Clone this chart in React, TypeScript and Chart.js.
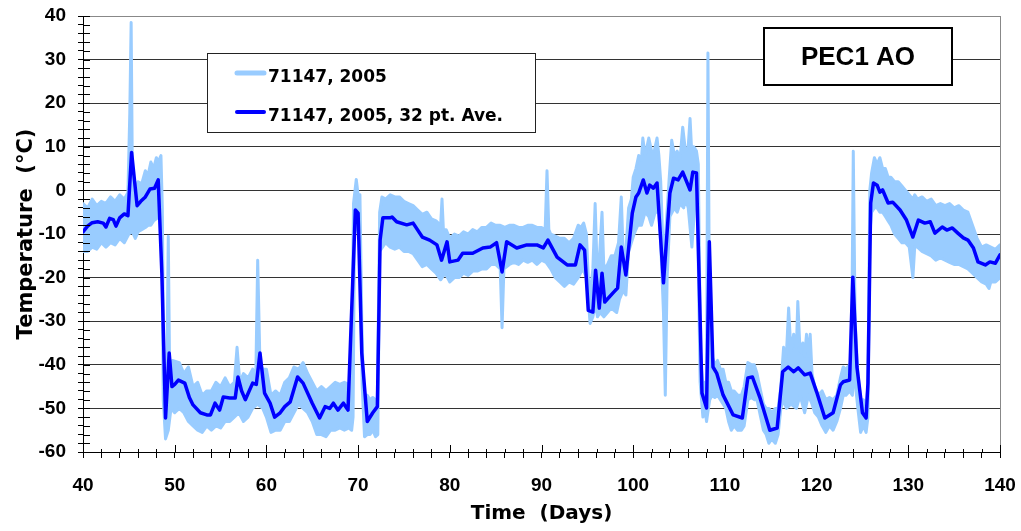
import React, { useEffect, useRef } from 'react';
import { Chart, registerables } from 'chart.js';

Chart.register(...registerables);

// ---- data ----
const xRange = [40, 140];
const yRange = [-60, 40];
const seriesLabels = ['71147, 2005', '71147, 2005, 32 pt. Ave.'];
const boxLabel = 'PEC1 AO';
const xTitle = 'Time  (Days)';
const yTitle = 'Temperature  (°C)';

// raw readings, upper edge of the daily swing [day, °C]
const rawUpper: [number, number][] = [
  [40, -3], [40.5, -4], [41, -2], [41.5, -3.5], [42, -2.5], [42.5, -3], [43, -1.5], [43.5, -2.5], [44, -1], [44.5, -2],
  [44.9, -0.5], [45.1, 17.5], [45.25, 38.5], [45.4, -1], [45.7, 0], [46, 2], [46.4, 1.5], [46.8, 4.5], [47.1, 3.5], [47.4, 6.5],
  [47.7, 5], [48, 7.5], [48.2, 6.5], [48.5, 8], [48.65, -4], [48.8, -42], [49, -48], [49.15, -40], [49.3, -10.5], [49.45, -42],
  [49.75, -39], [50.5, -39.5], [51, -42], [51.5, -40.5], [52, -45], [52.5, -44], [53, -47], [53.5, -46], [54, -46], [54.5, -44],
  [55, -45], [55.5, -43], [56, -45], [56.5, -44], [56.8, -36], [57.1, -44], [57.5, -42], [58, -43], [58.5, -41], [58.85, -42],
  [59.05, -16], [59.3, -40], [59.6, -41], [60, -41], [60.5, -47], [61, -46], [61.5, -47], [62, -44], [62.5, -43], [63, -40.5],
  [63.5, -41], [64, -39.5], [64.5, -42], [65, -44], [65.5, -46], [66, -45], [66.5, -46], [67, -45], [67.5, -44], [68, -44.5],
  [68.5, -44], [69, -44.5], [69.3, -44], [69.5, -3], [69.8, 2.5], [70, -1], [70.2, -1], [70.4, -30], [70.6, -47], [71, -47],
  [71.3, -48], [71.6, -47.5], [71.9, -48], [72.1, -48], [72.35, -5], [72.6, -1.5], [73, -2], [73.5, -1], [74, -1.5], [74.5, -1.5],
  [75, -2.5], [75.5, -3], [76, -3.5], [76.5, -4.5], [77, -5.5], [77.5, -5], [78, -6.5], [78.5, -7], [79, -8], [79.15, -2],
  [79.3, -9], [79.6, -9], [80, -11], [80.5, -10], [81, -10.5], [81.5, -9.5], [82, -10], [82.5, -9], [83, -9.5], [83.5, -8.5],
  [84, -8.5], [84.5, -7.5], [85, -8], [85.5, -8], [86, -8.5], [86.5, -8], [87, -8], [87.5, -8.5], [88, -8.5], [88.5, -8],
  [89, -8], [89.5, -8.5], [90, -8.5], [90.4, -9], [90.6, 4.5], [90.8, -9], [91, -10], [91.5, -10.5], [92, -11], [92.5, -11],
  [93, -12], [93.5, -11], [94, -8], [94.3, -8.5], [94.6, -7.5], [94.9, -10], [95.1, -20], [95.3, -24], [95.6, -18], [95.85, -3],
  [96.05, -17], [96.3, -16], [96.6, -5], [96.8, -18], [97.2, -17], [97.6, -15], [98, -15], [98.4, -12], [98.7, -1.5], [98.9, -14],
  [99.2, -14], [99.5, -4], [99.8, -2], [100, 3], [100.3, 5], [100.6, 8], [100.9, 7], [101.05, 12], [101.3, 8], [101.7, 12],
  [102, 9], [102.3, 9], [102.6, 12], [102.8, 8], [103, 2], [103.2, -10], [103.4, -15], [103.6, -8], [103.9, 2], [104.2, 11.5],
  [104.5, 8], [104.8, 9], [105.1, 7], [105.4, 14.5], [105.7, 9], [106, 10], [106.2, 16.5], [106.4, 8], [106.6, 10], [106.9, 9],
  [107.1, 6], [107.35, -38], [107.6, -45], [107.8, -44], [108, -46], [108.15, 31.5], [108.35, -40], [108.6, -38], [108.9, -40], [109.2, -39],
  [109.5, -41], [109.8, -41], [110.1, -44], [110.4, -44], [110.7, -46], [111, -46], [111.4, -47], [111.8, -47], [112.1, -45], [112.5, -39.5],
  [112.9, -40], [113.2, -40], [113.5, -42], [113.9, -46], [114.2, -49], [114.5, -50], [114.8, -50], [115.1, -51], [115.5, -50], [115.8, -50],
  [116.1, -45], [116.4, -36], [116.7, -38], [116.95, -27], [117.2, -37], [117.5, -33], [117.8, -36], [117.95, -25.5], [118.2, -37], [118.5, -35],
  [118.7, -38], [118.9, -33], [119.1, -38], [119.3, -33], [119.5, -42], [119.8, -45], [120.2, -47], [120.6, -46], [121, -48], [121.4, -47.5],
  [121.8, -48], [122.2, -47], [122.6, -43], [122.9, -40.5], [123.2, -41], [123.6, -40], [123.8, -41], [124, 9], [124.2, -30], [124.5, -42],
  [124.8, -48], [125.1, -48], [125.4, -49], [125.6, -45], [125.8, 0], [126, 4], [126.3, 7.5], [126.6, 6], [126.9, 7.5], [127.2, 5],
  [127.5, 5], [127.8, 3], [128.1, 3], [128.5, 2], [128.9, 2], [129.3, 1], [129.7, 0], [130.1, -1], [130.5, -2], [130.7, -1],
  [131, -2], [131.5, -1.5], [132, -2.5], [132.5, -2], [133, -3.5], [133.5, -3], [134, -3.5], [134.5, -3], [135, -4], [135.5, -3.5],
  [136, -4.5], [136.5, -5], [137, -8], [137.5, -11], [138, -13], [138.5, -12.5], [139, -13], [139.5, -13.5], [140, -12.5],
];

// raw readings, lower edge of the daily swing [day, °C]
const rawLower: [number, number][] = [
  [40, -14], [40.5, -14], [41, -13], [41.5, -13.5], [42, -12], [42.5, -13], [43, -12], [43.5, -12.5], [44, -11], [44.5, -12],
  [45, -10], [45.4, -9.5], [45.7, -11], [46, -9.5], [46.4, -9], [46.8, -8.5], [47.1, -8], [47.4, -8], [47.7, -7], [48, -6.5],
  [48.3, -6], [48.6, -6], [48.75, -48], [49, -57], [49.3, -55], [49.6, -50], [50, -51], [50.5, -50], [51, -51], [51.5, -53],
  [52, -54], [52.5, -55], [53, -55.5], [53.5, -54], [54, -55], [54.5, -54], [55, -54.5], [55.5, -53], [56, -53], [56.5, -52],
  [57, -51], [57.5, -53], [58, -52], [58.5, -50], [59, -49], [59.6, -50], [60, -52], [60.5, -55.5], [61, -55], [61.5, -55],
  [62, -53], [62.5, -53], [63, -51], [63.5, -49], [64, -50], [64.5, -51], [65, -53], [65.5, -56], [66, -56], [66.5, -56.5],
  [67, -55], [67.5, -55], [68, -54.5], [68.5, -55], [69, -54.5], [69.3, -55], [69.45, -52], [69.6, -10], [69.9, -8], [70.2, -9],
  [70.45, -45], [70.7, -56.5], [71, -56], [71.3, -56], [71.6, -55], [71.9, -56.5], [72.15, -56], [72.35, -14], [73, -12], [73.5, -13],
  [74, -13.5], [74.5, -13], [75, -14], [75.5, -14], [76, -14.5], [76.5, -16], [77, -17.5], [77.5, -17], [78, -18], [78.5, -19],
  [79, -20.5], [79.5, -19], [80, -21], [80.5, -20], [81, -20], [81.5, -19], [82, -19.5], [82.5, -18.5], [83, -18.5], [83.5, -18],
  [84, -18], [84.5, -17], [85, -17], [85.5, -18], [85.7, -31.5], [85.9, -18], [86.5, -17], [87, -16.5], [87.5, -17], [88, -16],
  [88.5, -16.5], [89, -16], [89.5, -17], [90, -16], [90.5, -16.5], [91, -18], [91.5, -20], [92, -21], [92.5, -22], [93, -21],
  [93.5, -21.5], [94, -20], [94.5, -18], [94.9, -20], [95.1, -25], [95.3, -30.5], [95.6, -29], [95.9, -26], [96.1, -29], [96.4, -28],
  [96.8, -29], [97.2, -28], [97.6, -27], [98.2, -28], [98.5, -25], [98.9, -23], [99.2, -24], [99.5, -14], [99.8, -12], [100.1, -10],
  [100.5, -8], [100.9, -8], [101.3, -5], [101.7, -6], [102, -8], [102.4, -5], [102.8, -5], [103, -12], [103.3, -28], [103.5, -47],
  [103.7, -20], [104, -6], [104.5, -4], [104.8, -5], [105.1, -3], [105.5, -4], [105.7, -2], [106, -4], [106.4, -13], [106.7, -4],
  [107, -3], [107.3, -44], [107.6, -52], [107.8, -50], [108, -53], [108.2, -50], [108.35, -48], [108.6, -47], [108.9, -47.5], [109.2, -47],
  [109.5, -48], [109.8, -49], [110.1, -50], [110.4, -53], [110.7, -55], [111, -54], [111.4, -55], [111.8, -55], [112.1, -54], [112.5, -48],
  [112.9, -47.5], [113.2, -48], [113.5, -48], [113.9, -52], [114.2, -55], [114.5, -56], [114.8, -58], [115.1, -57], [115.5, -58], [115.8, -56],
  [116.1, -50], [116.4, -48], [116.7, -50], [117.2, -49], [117.8, -50], [118.2, -47], [118.7, -51], [119.1, -47], [119.5, -49], [119.8, -51],
  [120.2, -52], [120.6, -54], [121, -55.5], [121.4, -54], [121.8, -55], [122.2, -53], [122.6, -50], [122.9, -47], [123.2, -47], [123.6, -46],
  [123.9, -47], [124.1, -40], [124.3, -46], [124.5, -50], [124.8, -55.5], [125.1, -54], [125.4, -55.5], [125.6, -52], [125.8, -10], [126, -5],
  [126.3, -4], [126.6, -4], [126.9, -5], [127.2, -5], [127.5, -6], [127.8, -7], [128.1, -8], [128.5, -10], [128.9, -11], [129.3, -12],
  [129.7, -12], [130.1, -13], [130.5, -20], [130.7, -13], [131, -13], [131.5, -14], [132, -14.5], [132.5, -15], [133, -16], [133.5, -15.5],
  [134, -16], [134.5, -16.5], [135, -17], [135.5, -17], [136, -17.5], [136.5, -18], [137, -19], [137.5, -20], [138, -21], [138.5, -21.5],
  [138.8, -22.5], [139, -21], [139.5, -21], [140, -20],
];

// 32-point running average [day, °C]
const avgPoints: [number, number][] = [
  [40, -9.5], [40.5, -8.2], [41, -7.4], [41.6, -7.2], [42.2, -7.5], [42.5, -8.4], [42.9, -6.4], [43.3, -6.7], [43.6, -8.2], [44, -6.3],
  [44.5, -5.4], [44.9, -5.8], [45.3, 8.7], [45.9, -3.5], [46.3, -2.5], [46.8, -1.5], [47.3, 0.3], [47.8, 0.5], [48.2, 2.4], [48.6, -19],
  [49, -52.2], [49.4, -37.3], [49.7, -45], [50, -44.5], [50.4, -43.5], [51.1, -44.2], [51.6, -47.5], [52, -49.2], [52.8, -51], [53.5, -51.5],
  [53.9, -51.5], [54.4, -48.8], [54.9, -50.4], [55.3, -47.4], [56, -47.6], [56.6, -47.6], [56.9, -42.8], [57.3, -46], [57.7, -48], [58.5, -44.2],
  [58.9, -44.5], [59.3, -37.3], [59.8, -46.5], [60.4, -48.8], [60.9, -52], [61.5, -51], [62, -49.6], [62.6, -48.5], [63.4, -42.8], [64, -44.2],
  [65, -48.8], [65.8, -52.2], [66.4, -49.6], [66.9, -50], [67.3, -48.8], [67.8, -50.4], [68.4, -48.8], [68.9, -50.4], [69.7, -4.5], [70, -5.2],
  [70.4, -37.3], [71, -53], [71.6, -51], [72.1, -49.6], [72.4, -11.4], [72.7, -6.3], [73.5, -6.3], [73.7, -6.1], [74.2, -7.2], [75.3, -7.9],
  [76, -7.5], [77, -10.7], [77.8, -11.4], [78.6, -12.5], [79.1, -16], [79.7, -11.8], [80, -16.4], [80.9, -16], [81.4, -14.4], [82.5, -14.4],
  [83.6, -13.2], [84.4, -13], [85.1, -12], [85.7, -18.7], [86.2, -11.8], [87.3, -13.2], [88.4, -12.5], [89.5, -12.5], [90.2, -13.2], [90.7, -11.4],
  [91.7, -15.3], [92.8, -17.1], [93.7, -17.1], [94.2, -12.5], [94.7, -13.7], [95.1, -27.5], [95.6, -27.9], [95.9, -18.3], [96.3, -27], [96.6, -19],
  [96.9, -25.6], [97.8, -23.5], [98.3, -22.4], [98.7, -13], [99.2, -19.4], [99.9, -5.2], [100.3, -1.5], [100.6, -0.6], [101.1, 2.4], [101.5, -0.6],
  [101.8, 1.2], [102.2, 0.5], [102.6, 1.7], [103.3, -21.2], [104, -0.6], [104.4, 2.8], [104.9, 2.4], [105.4, 4.2], [106.2, 0.1], [106.5, 4.2],
  [106.9, 4], [107.5, -46.5], [108, -49.9], [108.3, -11.8], [108.7, -40.5], [109.1, -41.9], [109.8, -46.9], [110.9, -51.5], [111.9, -52.2], [112.5, -43],
  [113, -42.8], [113.8, -47.4], [114.9, -55], [115.7, -54.5], [116.3, -41.6], [116.9, -40.5], [117.5, -41.6], [118, -40.7], [118.7, -42.3], [119.3, -41.9],
  [120, -46.2], [120.9, -52.2], [121.8, -51], [122.6, -44.6], [122.9, -43.9], [123.6, -43.5], [123.95, -19.9], [124.4, -40.5], [125, -51], [125.4, -52.2],
  [125.6, -44.2], [125.9, -2.9], [126.2, 1.7], [126.6, 1.2], [126.9, -0.4], [127.2, 0.1], [127.8, -2.9], [128.3, -2.7], [129.1, -4.5], [129.8, -6.8],
  [130.5, -10.7], [131.1, -6.8], [131.8, -7.5], [132.4, -7.2], [132.9, -9.8], [133.7, -8.4], [134.2, -9.1], [134.8, -8.6], [135.4, -9.8], [136, -10.9],
  [136.5, -11.4], [137.1, -13.2], [137.6, -16.4], [138.4, -17.1], [138.9, -16.4], [139.5, -16.7], [140, -14.8],
];

const RAW_COLOR = '#99CCFF';
const AVG_COLOR = '#0000FF';
const TICK_FONT = { family: '"Liberation Sans", Arial, sans-serif', size: 19, weight: 'bold' as const };
const TITLE_FAMILY = '"DejaVu Sans", sans-serif';

const isMajor = (v: number) => Math.round(v) % 10 === 0;
const toXY = (pts: [number, number][]) => pts.map(([x, y]) => ({ x, y }));

export default function App() {
  const ref = useRef<HTMLCanvasElement>(null);

  useEffect(() => {
    const canvas = ref.current;
    if (!canvas) return;

    const innerTicks = {
      id: 'innerTicks',
      afterDraw(chart: any) {
        const { ctx, chartArea, scales } = chart;
        ctx.save();
        ctx.strokeStyle = '#000';
        ctx.lineWidth = 1;
        ctx.beginPath();
        for (const t of scales.y.ticks) {
          const y = Math.round(scales.y.getPixelForValue(t.value)) + 0.5;
          ctx.moveTo(chartArea.left, y);
          ctx.lineTo(chartArea.left + 7, y);
        }
        for (const t of scales.x.ticks) {
          const x = Math.round(scales.x.getPixelForValue(t.value)) + 0.5;
          ctx.moveTo(x, chartArea.bottom);
          ctx.lineTo(x, chartArea.bottom - (isMajor(t.value) ? 7 : 3));
        }
        ctx.stroke();
        ctx.restore();
      },
    };

    const legendBox = {
      id: 'legendBox',
      afterDraw(chart: any) {
        const { ctx } = chart;
        ctx.save();
        ctx.fillStyle = '#fff';
        ctx.fillRect(207, 53, 328, 79);
        ctx.strokeStyle = '#222';
        ctx.lineWidth = 1;
        ctx.strokeRect(207.5, 53.5, 328, 79);
        const rows = [73, 112];
        const entries = chart.data.datasets.filter((ds: any) => ds.inLegend);
        entries.forEach((ds: any, i: number) => {
          const y = rows[i];
          ctx.strokeStyle = ds.borderColor;
          ctx.lineWidth = ds.legendWidth;
          ctx.lineCap = 'round';
          ctx.beginPath();
          ctx.moveTo(237, y);
          ctx.lineTo(264, y);
          ctx.stroke();
          ctx.fillStyle = '#000';
          ctx.font = `bold 17px ${TITLE_FAMILY}`;
          ctx.textBaseline = 'alphabetic';
          ctx.textAlign = 'left';
          ctx.fillText(ds.label, 268, y + 9);
        });

        ctx.fillStyle = '#fff';
        ctx.fillRect(763, 27, 190, 59);
        ctx.strokeStyle = '#000';
        ctx.lineWidth = 2;
        ctx.strokeRect(764, 28, 188, 57);
        ctx.fillStyle = '#000';
        ctx.font = 'bold 26px "Liberation Sans", Arial, sans-serif';
        ctx.textAlign = 'center';
        ctx.fillText(boxLabel, 858, 65);
        ctx.restore();
      },
    };

    const chart = new Chart(canvas, {
      type: 'line',
      data: {
        datasets: [
          {
            label: seriesLabels[0],
            inLegend: true,
            legendWidth: 5,
            data: toXY(rawUpper),
            borderColor: RAW_COLOR,
            backgroundColor: RAW_COLOR,
            borderWidth: 3,
            pointRadius: 0,
            tension: 0,
            fill: false,
            borderJoinStyle: 'round',
            borderCapStyle: 'round',
            order: 2,
          },
          {
            label: seriesLabels[0],
            inLegend: false,
            data: toXY(rawLower),
            borderColor: RAW_COLOR,
            backgroundColor: RAW_COLOR,
            borderWidth: 3,
            pointRadius: 0,
            tension: 0,
            fill: '-1',
            borderJoinStyle: 'round',
            borderCapStyle: 'round',
            order: 3,
          },
          {
            label: seriesLabels[1],
            inLegend: true,
            legendWidth: 4,
            data: toXY(avgPoints),
            borderColor: AVG_COLOR,
            backgroundColor: AVG_COLOR,
            borderWidth: 3.5,
            pointRadius: 0,
            tension: 0,
            fill: false,
            borderJoinStyle: 'round',
            borderCapStyle: 'round',
            order: 1,
          },
        ],
      },
      options: {
        animation: false,
        responsive: false,
        devicePixelRatio: 1,
        layout: { padding: { top: 16, right: 21, left: 0, bottom: 0 } },
        plugins: {
          legend: { display: false },
          tooltip: { enabled: false },
          filler: { propagate: false },
        },
        scales: {
          x: {
            type: 'linear',
            min: xRange[0],
            max: xRange[1],
            border: { color: '#000', width: 1 },
            grid: {
              color: (c: any) => (c.tick && c.tick.value === xRange[1] ? '#888' : 'rgba(0,0,0,0)'),
              tickColor: '#000',
              tickLength: 6,
            },
            ticks: {
              stepSize: 2,
              autoSkip: false,
              maxRotation: 0,
              padding: 16,
              color: '#000',
              font: TICK_FONT,
              callback: (v: any) => (isMajor(Number(v)) ? String(v) : ''),
            },
            title: {
              display: true,
              text: xTitle,
              color: '#000',
              font: { family: TITLE_FAMILY, size: 20, weight: 'bold' },
              padding: { top: 0, bottom: 5 },
            },
            afterFit: (s: any) => {
              s.height = 79;
              s.paddingLeft = 0;
              s.paddingRight = 0;
            },
          },
          y: {
            type: 'linear',
            min: yRange[0],
            max: yRange[1],
            border: { color: '#000', width: 1 },
            grid: {
              color: (c: any) => {
                const v = c.tick ? c.tick.value : 0;
                if (v === yRange[1]) return '#888';
                return isMajor(v) ? '#333' : 'rgba(0,0,0,0)';
              },
              tickColor: '#000',
              tickLength: 5,
            },
            ticks: {
              stepSize: 2,
              autoSkip: false,
              padding: 12,
              color: '#000',
              font: TICK_FONT,
              callback: (v: any) => (isMajor(Number(v)) ? String(v) : ''),
            },
            title: {
              display: true,
              text: yTitle,
              color: '#000',
              font: { family: TITLE_FAMILY, size: 21, weight: 'bold' },
              padding: { top: 14, bottom: 0 },
            },
            afterFit: (s: any) => {
              s.width = 83;
              s.paddingTop = 0;
              s.paddingBottom = 0;
            },
          },
        },
      } as any,
      plugins: [innerTicks, legendBox],
    });

    return () => chart.destroy();
  }, []);

  return (
    <div style={{ position: 'fixed', left: 0, top: 0, width: 1021, height: 531, background: '#fff' }}>
      <canvas ref={ref} width={1021} height={531} style={{ width: 1021, height: 531, display: 'block' }} />
    </div>
  );
}
